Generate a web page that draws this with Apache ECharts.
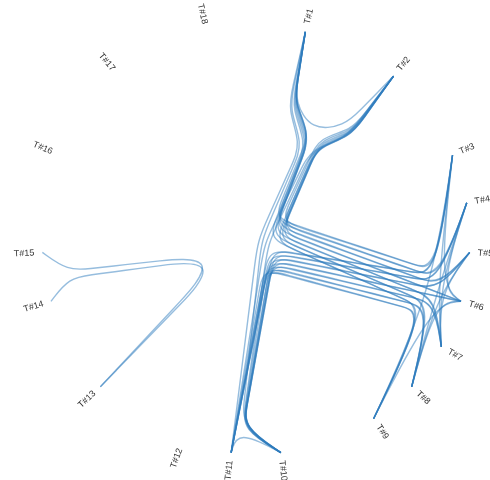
<!DOCTYPE html>
<html><head><meta charset="utf-8">
<script src="https://cdn.jsdelivr.net/npm/echarts@6/dist/echarts.min.js"></script>
<style>html,body{margin:0;padding:0;background:#fff}#c{width:490px;height:480px}</style>
</head><body><div id="c"></div>
<script>
// Leaves (in circular order)
const leafNames = ['T#1','T#2','T#3','T#4','T#5','T#6','T#7','T#8','T#9','T#10','T#11','T#12','T#13','T#14','T#15','T#16','T#17','T#18'];
// Top-level branch of each leaf, and sub-branch inside it
const leafTop = ['A','A','B','B','B','B','B','B','B','C','C','C','D','D','D','E','F','G'];
const leafSub = ['a','b','','','','','','','','','','','a','b','b','','',''];
// Depth below which sub-branches of a top branch diverge
const branchSplitDepth = {A: 4, D: 1};
// Edges (source -> target)
const edgeSources = ['T#1','T#1','T#1','T#1','T#1','T#1','T#1','T#1','T#1','T#1',
  'T#2','T#2','T#2','T#2','T#2','T#2','T#2','T#2','T#2',
  'T#10','T#10','T#10','T#10','T#10','T#10','T#10','T#10',
  'T#11','T#11','T#11','T#11','T#11','T#11','T#11',
  'T#13','T#13',
  'T#3','T#3','T#4','T#4','T#5','T#5','T#6','T#6','T#3','T#4'];
const edgeTargets = ['T#2','T#3','T#4','T#5','T#6','T#7','T#8','T#9','T#10','T#11',
  'T#3','T#4','T#5','T#6','T#7','T#8','T#9','T#10','T#11',
  'T#3','T#4','T#5','T#6','T#7','T#8','T#9','T#11',
  'T#3','T#4','T#5','T#6','T#7','T#8','T#9',
  'T#14','T#15',
  'T#6','T#7','T#6','T#7','T#7','T#8','T#8','T#9','T#9','T#8'];

// ---- cluster layout (d3-like) ----
const DEPTH = 8;
const BETA = 0.85;
function ancestorId(i, k) { // k = 1..DEPTH-1
  const t = leafTop[i], s = leafSub[i];
  const split = branchSplitDepth[t] || DEPTH;
  return t + (s && k > split ? '.' + s : '') + '@' + k;
}
const nL = leafNames.length;
const sep = (i, j) => ancestorId(i, DEPTH - 1) === ancestorId(j, DEPTH - 1) ? 1 : 2;
const xs = [0];
for (let i = 1; i < nL; i++) xs.push(xs[i - 1] + sep(i, i - 1));
const x0 = -sep(0, nL - 1) / 2, x1 = xs[nL - 1] + sep(nL - 1, 0) / 2;
const leafAngle = xs.map(x => (x - x0) / (x1 - x0) * 360);

// internal node angles = mean of children angles (bottom-up)
const nodeAngle = {};
let childAngles = leafNames.map((_, i) => ({id: 'L' + i, a: leafAngle[i], leaf: i}));
for (let k = DEPTH - 1; k >= 1; k--) {
  const groups = {};
  const order = [];
  childAngles.forEach(c => {
    const pid = ancestorId(c.leaf, k);
    if (!groups[pid]) { groups[pid] = {sum: 0, n: 0, leaf: c.leaf}; order.push(pid); }
    groups[pid].sum += c.a; groups[pid].n++;
  });
  childAngles = order.map(pid => {
    nodeAngle[pid] = groups[pid].sum / groups[pid].n;
    return {id: pid, a: nodeAngle[pid], leaf: groups[pid].leaf};
  });
}

function chain(i) {
  const out = [{r: 1, a: leafAngle[i], id: 'L' + i}];
  for (let k = DEPTH - 1; k >= 1; k--) {
    const id = ancestorId(i, k);
    out.push({r: k / DEPTH, a: nodeAngle[id], id: id});
  }
  out.push({r: 0, a: 0, id: 'root'});
  return out;
}
function edgePath(si, ti) {
  const A = chain(si), B = chain(ti);
  let k = 0;
  while (k < A.length && A[k].id !== B[k].id) k++;
  return A.slice(0, k + 1).concat(B.slice(0, k).reverse());
}
const edgePaths = edgeSources.map((s, i) => edgePath(leafNames.indexOf(s), leafNames.indexOf(edgeTargets[i])));

function bundleD(pts, beta) {
  const j = pts.length - 1;
  const P = [];
  const ax = pts[0][0], ay = pts[0][1], dx = pts[j][0] - ax, dy = pts[j][1] - ay;
  for (let i = 0; i <= j; i++) {
    const t = i / j;
    P.push([beta * pts[i][0] + (1 - beta) * (ax + t * dx), beta * pts[i][1] + (1 - beta) * (ay + t * dy)]);
  }
  let d = '', st = 0, px0, py0, px1, py1;
  const f = v => v.toFixed(2);
  const bez = (x, y) => {
    d += 'C' + f((2 * px0 + px1) / 3) + ',' + f((2 * py0 + py1) / 3) + ' ' + f((px0 + 2 * px1) / 3) + ',' + f((py0 + 2 * py1) / 3) + ' ' + f((px0 + 4 * px1 + x) / 6) + ',' + f((py0 + 4 * py1 + y) / 6);
  };
  P.forEach(([x, y]) => {
    if (st === 0) { st = 1; d += 'M' + f(x) + ',' + f(y); }
    else if (st === 1) { st = 2; }
    else {
      if (st === 2) { st = 3; d += 'L' + f((5 * px0 + px1) / 6) + ',' + f((5 * py0 + py1) / 6); }
      bez(x, y);
    }
    px0 = px1; px1 = x; py0 = py1; py1 = y;
  });
  if (st === 3) { bez(px1, py1); d += 'L' + f(px1) + ',' + f(py1); }
  else if (st === 2) { d += 'L' + f(px1) + ',' + f(py1); }
  return d;
}

const chart = echarts.init(document.getElementById('c'), null, {renderer: 'canvas'});
chart.setOption({
  backgroundColor: '#ffffff',
  animation: false,
  polar: {center: [256, 240], radius: 214},
  angleAxis: {type: 'value', min: 0, max: 360, startAngle: 90, clockwise: true, show: false},
  radiusAxis: {type: 'value', min: 0, max: 1, show: false},
  series: [
    {
      type: 'custom',
      coordinateSystem: 'polar',
      data: edgeSources.map((s) => [1, leafAngle[leafNames.indexOf(s)]]),
      renderItem: function (params, api) {
        const pts = edgePaths[params.dataIndex].map(p => api.coord([p.r, p.a]));
        return {
          type: 'path',
          shape: {pathData: bundleD(pts, BETA)},
          style: {stroke: '#2e7cbd', fill: 'none', lineWidth: 1.4, opacity: 0.5}
        };
      }
    },
    {
      type: 'custom',
      coordinateSystem: 'polar',
      data: leafNames.map((n, i) => [1, leafAngle[i]]),
      renderItem: function (params, api) {
        const a = api.value(1);
        const p = api.coord([api.value(0), a]);
        const c = api.coord([0, a]);
        const len = Math.hypot(p[0] - c[0], p[1] - c[1]);
        const ux = (p[0] - c[0]) / len, uy = (p[1] - c[1]) / len;
        const off = 8;
        const flip = a >= 180;
        const rot = flip ? -(a + 90) : -(a - 90);
        return {
          type: 'text',
          x: p[0] + ux * off,
          y: p[1] + uy * off,
          rotation: rot * Math.PI / 180,
          style: {
            text: leafNames[params.dataIndex],
            fill: '#333',
            fontSize: 9,
            fontFamily: 'Liberation Sans, Arial, sans-serif',
            align: flip ? 'right' : 'left',
            verticalAlign: 'middle'
          }
        };
      }
    }
  ]
});
</script>
</body></html>
